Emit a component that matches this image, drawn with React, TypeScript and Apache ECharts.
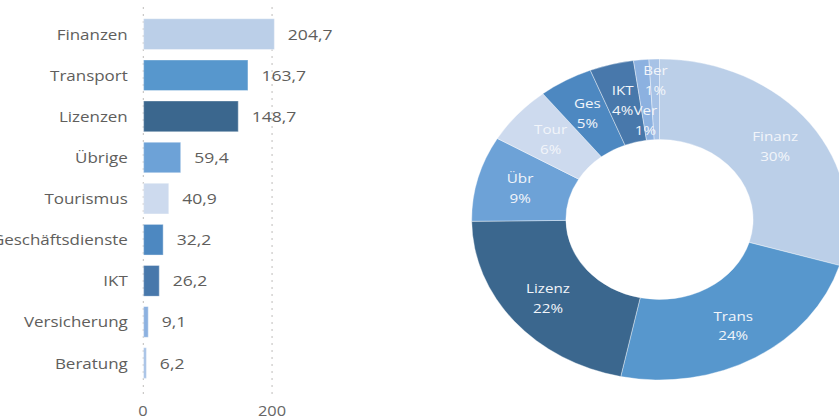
import React, { useEffect, useRef } from 'react';
import * as echarts from 'echarts';

const categories = ['Finanzen', 'Transport', 'Lizenzen', 'Übrige', 'Tourismus', 'Geschäftsdienste', 'IKT', 'Versicherung', 'Beratung'];
const shortLabels = ['Finanz', 'Trans', 'Lizenz', 'Übr', 'Tour', 'Ges', 'IKT', 'Ver', 'Ber'];
const values = [204.7, 163.7, 148.7, 59.4, 40.9, 32.2, 26.2, 9.1, 6.2];
const colors = ['#BBCFE8', '#5797CD', '#3B678E', '#6DA2D7', '#CDDAEE', '#4D88C1', '#4878AB', '#8CB1E0', '#A7C2E6'];
const axisMax = 200;
const axisInterval = 200;

const FULL_W = 839;
const H = 419;
const W = 717;
const SCALE = FULL_W / W;
const FONT = "'Open Sans', 'Noto Sans', sans-serif";

export default function App() {
  const ref = useRef<HTMLDivElement>(null);

  useEffect(() => {
    if (!ref.current) return;
    const chart = echarts.init(ref.current, undefined, { renderer: 'svg' });
    const total = values.reduce((a, b) => a + b, 0);
    const fmt = (v: number) => v.toFixed(1).replace('.', ',');
    const labelShift: Record<number, number> = { 7: 23, 8: -16 };

    chart.setOption({
      animation: false,
      textStyle: { fontFamily: FONT },
      grid: [
        { left: 122.2, right: 484.6, top: 13.6, bottom: 35.4, containLabel: false, outerBoundsMode: 'none' },
        { left: 122.2, right: 484.6, top: 7, bottom: 22, containLabel: false, outerBoundsMode: 'none' },
      ],
      xAxis: [
        { gridIndex: 0, type: 'value', min: 0, max: axisMax, interval: axisInterval, show: false },
        {
          gridIndex: 1,
          type: 'value',
          min: 0,
          max: axisMax,
          interval: axisInterval,
          axisLine: { show: false },
          axisTick: { show: false },
          axisLabel: { fontSize: 14, color: '#666666', margin: 6, fontFamily: FONT },
          splitLine: { show: true, lineStyle: { color: '#C8C6C4', type: [2, 5], width: 1 } },
        },
      ],
      yAxis: [
        {
          gridIndex: 0,
          type: 'category',
          inverse: true,
          data: categories,
          axisLine: { show: false },
          axisTick: { show: false },
          axisLabel: { fontSize: 14.5, color: '#605E5C', margin: 13, fontFamily: FONT },
        },
        { gridIndex: 1, type: 'value', show: false },
      ],
      series: [
        {
          type: 'bar',
          xAxisIndex: 0,
          yAxisIndex: 0,
          clip: false,
          barCategoryGap: '23%',
          data: values.map((v, i) => ({
            value: v,
            itemStyle: { color: colors[i], borderColor: 'rgba(255,255,255,0.35)', borderWidth: 1 },
          })),
          label: {
            show: true,
            position: 'right',
            distance: 11,
            fontSize: 15,
            color: '#605E5C',
            fontFamily: FONT,
            formatter: (p: any) => fmt(p.value),
          },
        },
        {
          type: 'pie',
          center: [563.6, 219.5],
          radius: [80, 160.5],
          startAngle: 90,
          clockwise: true,
          avoidLabelOverlap: false,
          data: values.map((v, i) => ({
            value: v,
            name: shortLabels[i],
            itemStyle: { color: colors[i] },
          })),
          itemStyle: { borderColor: 'rgba(255,255,255,0.45)', borderWidth: 0.8 },
          label: {
            show: true,
            position: 'inside',
            color: '#F2F5FA',
            fontSize: 13,
            lineHeight: 20,
            fontFamily: FONT,
            formatter: (p: any) => `${p.name}\n${Math.round((p.value / total) * 100)}%`,
          },
          labelLine: { show: false },
          labelLayout: (p: any) => (labelShift[p.dataIndex] !== undefined ? { dy: labelShift[p.dataIndex] } : {}),
          emphasis: { disabled: true },
        },
      ],
    });

    return () => chart.dispose();
  }, []);

  return (
    <div style={{ position: 'fixed', left: 0, top: 0, width: FULL_W, height: H, overflow: 'hidden', background: '#fff' }}>
      <div
        ref={ref}
        style={{ width: W, height: H, transform: `scaleX(${SCALE})`, transformOrigin: '0 0' }}
      />
    </div>
  );
}
